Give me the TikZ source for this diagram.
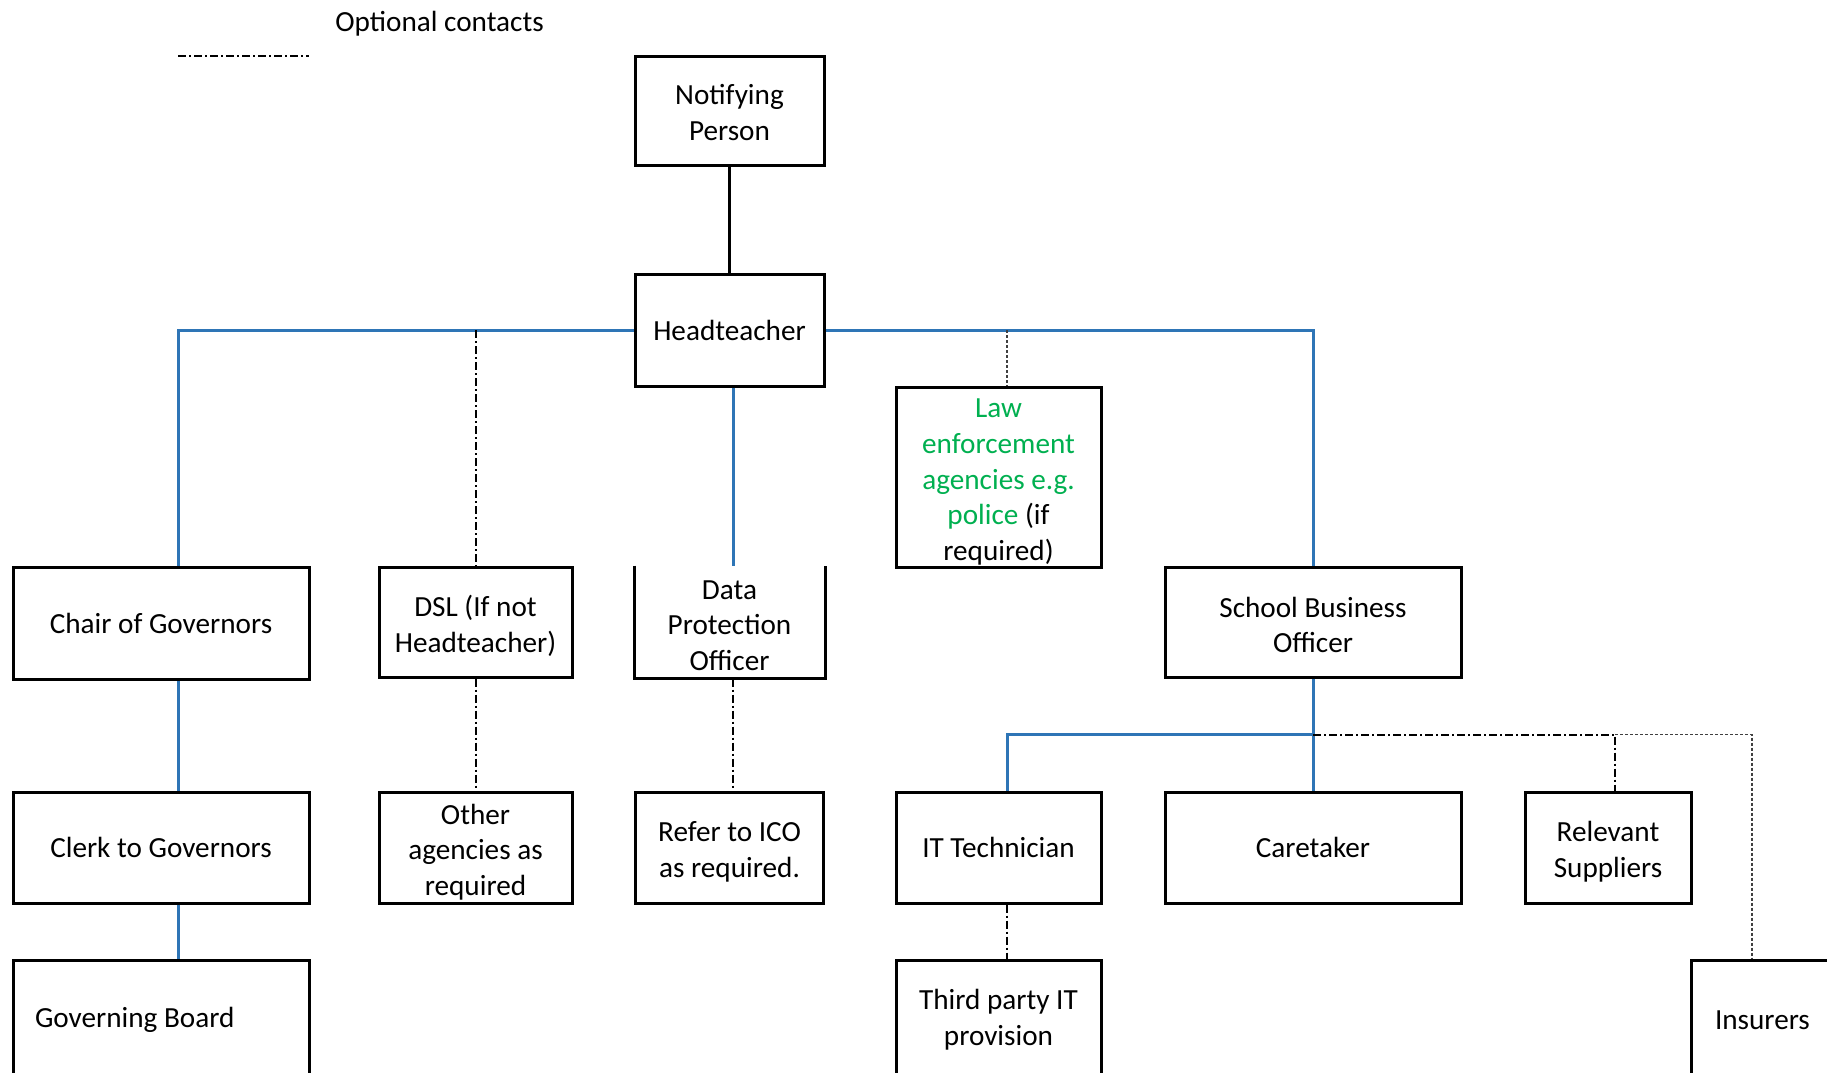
\documentclass[tikz,border=0pt]{standalone}
\usepackage{fontspec}
\setmainfont{Carlito}
\usetikzlibrary{calc}
\definecolor{lineblue}{RGB}{46,117,182}
\definecolor{lawgreen}{RGB}{0,176,80}
\newcommand\myupA{\rule{0pt}{14.5pt}}
\newcommand\myupB{\rule{0pt}{13pt}}
\newcommand\myupC{\rule{0pt}{12pt}}
\begin{document}
\begin{tikzpicture}[x=0.5pt,y=-0.5pt,
  box/.style={draw=black, line width=1.5pt, rectangle, inner sep=0pt, align=center, font=\fontsize{14.6}{17.8}\selectfont},
  txt/.style={font=\fontsize{14.6}{17.8}\selectfont, inner sep=0pt},
  blueln/.style={draw=lineblue, line width=1.5pt},
  blackln/.style={draw=black, line width=1.5pt},
  optln/.style={draw=black, line width=1pt, dash pattern=on 4pt off 1.5pt on 1pt off 1.5pt},
  fineln/.style={draw=black!75, line width=0.6pt, dash pattern=on 1.5pt off 1pt}]
\fill[white] (0,0) rectangle (1827,1072);
\useasboundingbox (0,0) rectangle (1827,1072);

% legend
\coordinate (l1) at (178,56);
\coordinate (l2) at (309,56);
\draw[optln] (l1) -- (l2);
\node[txt, anchor=west] (leg) at (335,24) {Optional contacts};

% nodes
\node[box, minimum width=94.5pt, minimum height=54.5pt] (np) at (729.5,110.5) {\myupC Notifying\\Person};
\node[box, minimum width=94.5pt, minimum height=56pt] (ht) at (729.5,330) {Headteacher};
\node[box, minimum width=148pt, minimum height=56pt] (chair) at (161,623) {Chair of Governors};
\node[box, minimum width=96.5pt, minimum height=55pt] (dsl) at (475.5,622) {\myupA DSL (If not\\Headteacher)};
\node[box, draw=none, minimum width=94pt, minimum height=55pt] (dpo) at (729.5,622) {\myupB Data\\Protection\\Officer};
\draw[line width=1.5pt] (dpo.north west) -- (dpo.south west) -- (dpo.south east) -- (dpo.north east);
\node[box, minimum width=102.5pt, minimum height=90pt] (law) at (998.5,477)
  {\myupA{\color{lawgreen}Law}\\{\color{lawgreen}enforcement}\\{\color{lawgreen}agencies e.g.}\\{\color{lawgreen}police} (if\\required)};
\node[box, minimum width=148pt, minimum height=55pt] (sbo) at (1313,622) {\myupB School Business\\Officer};

\node[box, minimum width=148pt, minimum height=55.5pt] (clerk) at (161,847.5) {Clerk to Governors};
\node[box, minimum width=96.5pt, minimum height=55.5pt] (other) at (475.5,847.5) {\myupA Other\\agencies as\\required};
\node[box, minimum width=94pt, minimum height=55.5pt] (ico) at (729.5,847.5) {\myupA Refer to ICO\\as required.};
\node[box, minimum width=102.5pt, minimum height=55.5pt] (it) at (998.5,847.5) {IT Technician};
\node[box, minimum width=148pt, minimum height=55.5pt] (care) at (1313,847.5) {Caretaker};
\node[box, minimum width=83pt, minimum height=55.5pt] (rel) at (1608,847.5) {\myupA Relevant\\Suppliers};

\node[box, minimum width=148pt, minimum height=60pt, text width=126pt, align=flush left] (gov) at (161,1020) {Governing Board};
\node[box, minimum width=102.5pt, minimum height=60pt] (third) at (998.5,1020) {Third party IT\\provision};
\node[box, minimum width=79.5pt, minimum height=60pt, text width=55.5pt, align=flush left] (ins) at (1770.5,1020) {Insurers};

% connectors
\draw[blackln] (np) -- (ht);
\draw[blueln] (ht.west) -| ([xshift=8.5pt]chair.north);
\draw[blueln] (ht.east) -| (sbo.north);
\draw[optln] (ht.west -| dsl.north) -- (dsl.north);
\draw[blueln] ([xshift=1.75pt]ht.south) -- ([xshift=1.75pt]dpo.north);
\draw[fineln] ([xshift=4.25pt]law.north |- ht.east) -- ([xshift=4.25pt]law.north);

\draw[blueln] ([xshift=8.5pt]chair.south) -- ([xshift=8.5pt]clerk.north);
\draw[blueln] ([xshift=8.5pt]clerk.south) -- ([xshift=8.5pt]gov.north);
\draw[optln] (dsl) -- (other);
\draw[optln] ([xshift=1.75pt]dpo.south) -- ([xshift=1.75pt]ico.north);

\coordinate (j) at ($(sbo.south)!0.5!(care.north)$);
\draw[blueln] (sbo) -- (care);
\draw[blueln] (j) -| ([xshift=4.25pt]it.north);
\draw[optln] (j) -| ([xshift=3.5pt]rel.north);
\draw[fineln] ([xshift=3.5pt]rel.north |- j) -| ([xshift=-9.25pt]ins.north);
\draw[optln] ([xshift=4.25pt]it.south) -- ([xshift=4.25pt]third.north);
\end{tikzpicture}
\end{document}
